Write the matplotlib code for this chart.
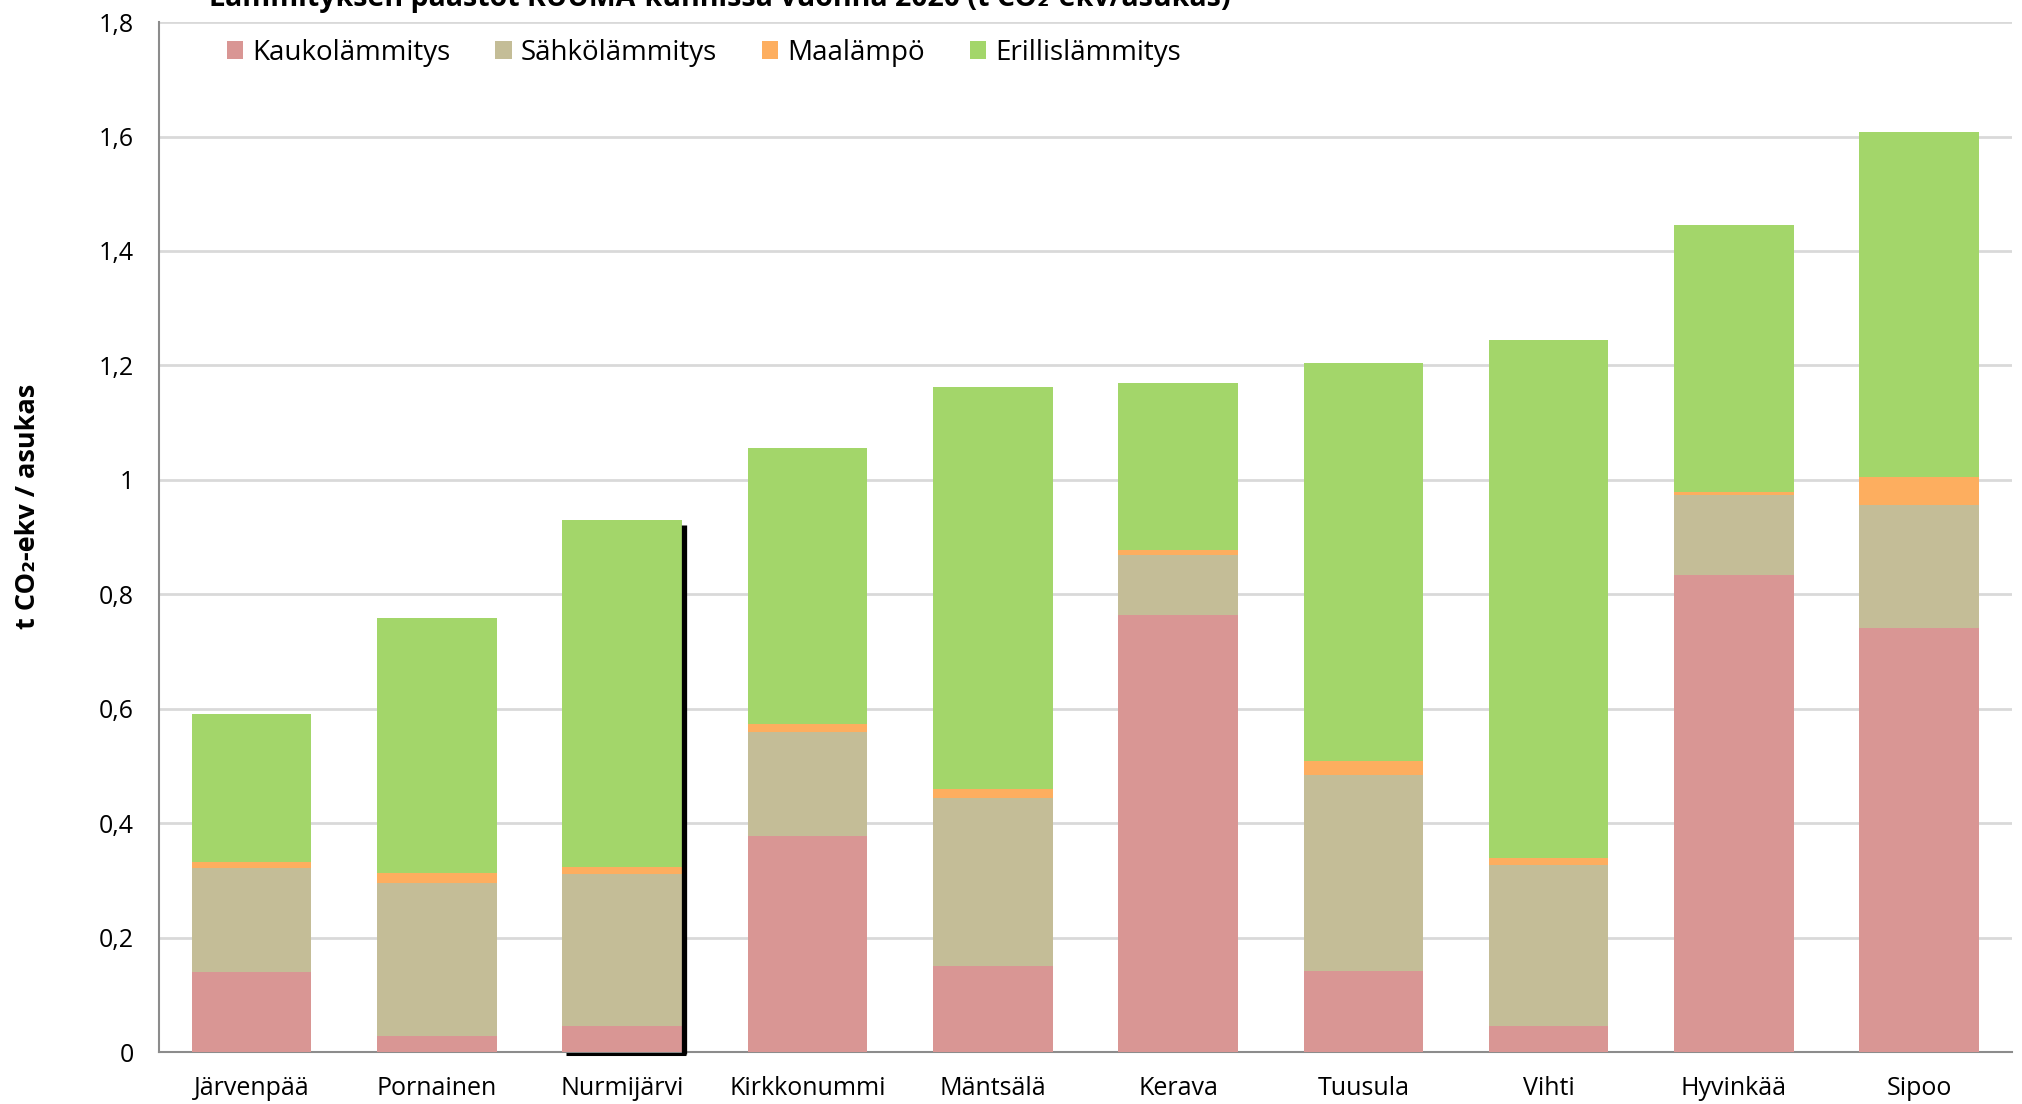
import numpy as np
import matplotlib
matplotlib.use('Agg')
from matplotlib import pyplot as plt
from matplotlib.ticker import FuncFormatter

plt.rcParams['font.family'] = ['Open Sans', 'DejaVu Sans']

kunnat = ['Järvenpää', 'Pornainen', 'Nurmijärvi', 'Kirkkonummi', 'Mäntsälä',
          'Kerava', 'Tuusula', 'Vihti', 'Hyvinkää', 'Sipoo']
kauko = [0.140, 0.029, 0.045, 0.378, 0.151, 0.764, 0.142, 0.045, 0.834, 0.741]
sahko = [0.182, 0.266, 0.266, 0.181, 0.293, 0.105, 0.342, 0.282, 0.139, 0.215]
maa = [0.011, 0.018, 0.013, 0.015, 0.015, 0.009, 0.025, 0.013, 0.006, 0.049]
erillis = [0.257, 0.446, 0.606, 0.482, 0.703, 0.291, 0.696, 0.905, 0.467, 0.603]

sarjat = ['Kaukolämmitys', 'Sähkölämmitys', 'Maalämpö', 'Erillislämmitys']
arvot = [kauko, sahko, maa, erillis]
varit = ['#d99694', '#c4bd97', '#fdae5f', '#a3d66a']

fig = plt.figure(figsize=(20.22, 11.04), dpi=100)
ax = fig.add_axes([0.0786, 0.047, 0.9164, 0.933])

x = np.arange(len(kunnat))
leveys = 0.645
pohja = np.zeros(len(kunnat))
for nimi, vals, c in zip(sarjat, arvot, varit):
    ax.bar(x, vals, leveys, bottom=pohja, color=c, label=nimi, zorder=3)
    pohja += np.array(vals)

# stray black line drawn over the Nurmijärvi bar in the original
i = kunnat.index('Nurmijärvi')
xr = x[i] + leveys / 2 + 0.012
ax.plot([xr, xr], [-0.003, pohja[i] - 0.008], color='black', lw=3.8, zorder=5,
        clip_on=False, solid_capstyle='butt')
ax.plot([x[i] - leveys / 2 + 0.02, xr + 0.01], [-0.003, -0.003], color='black',
        lw=2.2, zorder=5, clip_on=False, solid_capstyle='butt')

ax.set_xlim(-0.5, 9.5)
ax.set_ylim(0, 1.8)
ax.set_yticks(np.arange(0, 1.81, 0.2))
ax.yaxis.set_major_formatter(FuncFormatter(lambda v, p: f'{round(v, 1):g}'.replace('.', ',')))
ax.set_xticks(x)
ax.set_xticklabels(kunnat)
ax.tick_params(axis='y', length=0, pad=18, labelsize=18)
ax.tick_params(axis='x', length=0, pad=17, labelsize=18)

ax.grid(axis='y', color='#d9d9d9', lw=2, zorder=0)
for s in ['top', 'right']:
    ax.spines[s].set_visible(False)
ax.spines['left'].set_color('#8c8c8c')
ax.spines['bottom'].set_color('#8c8c8c')
ax.spines['left'].set_linewidth(1.5)
ax.spines['bottom'].set_linewidth(1.5)

ax.set_ylabel('t CO₂-ekv / asukas', fontsize=19.5, fontweight='bold')
ax.yaxis.set_label_coords(-0.0634, 0.53)

ax.legend(loc='upper left', bbox_to_anchor=(0.0365, 0.984), ncol=4, frameon=False,
          fontsize=20, handlelength=0.6, handleheight=0.6, handletextpad=0.33,
          columnspacing=1.6, borderaxespad=0, borderpad=0)

fig.text(0.356, 0.9945, 'Lämmityksen päästöt KUUMA-kunnissa vuonna 2020 (t CO₂-ekv/asukas)',
         ha='center', va='baseline', fontsize=20.5, fontweight='bold')

fig.savefig('out.png', dpi=100)
